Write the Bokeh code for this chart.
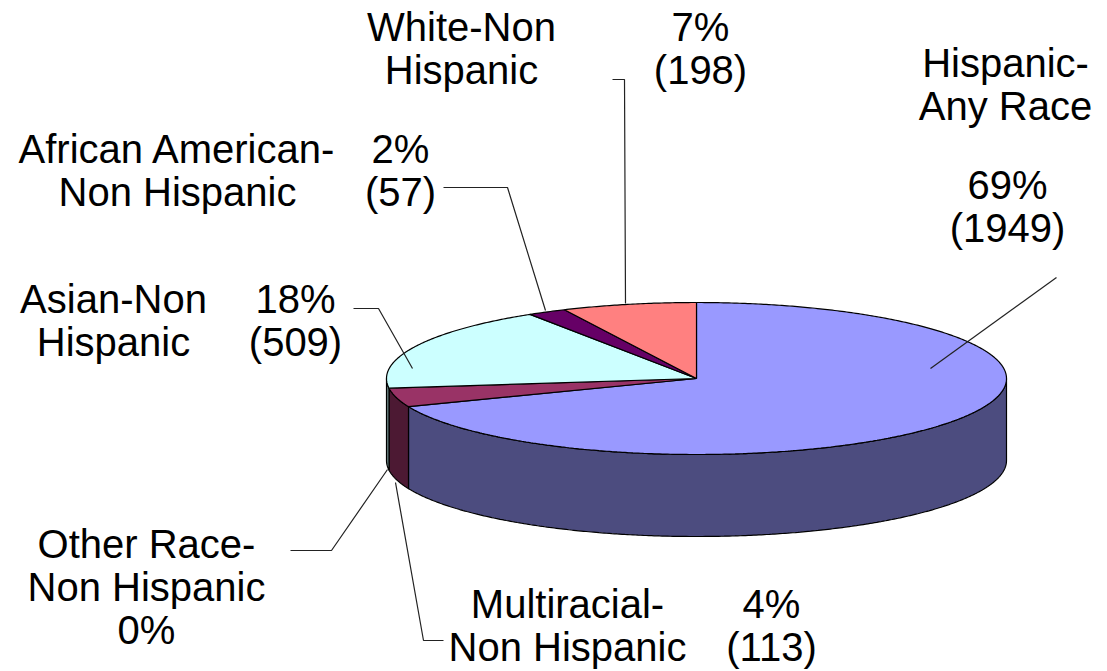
import numpy as np
from bokeh.plotting import figure
from bokeh.models import Range1d, ColumnDataSource
from bokeh.core.properties import value
from bokeh.embed import file_html
from bokeh.resources import INLINE

# ---------------- data ----------------
categories = ["Hispanic-Any Race", "Multiracial-Non Hispanic", "Other Race-Non Hispanic",
              "Asian-Non Hispanic", "African American-Non Hispanic", "White-Non Hispanic"]
name_lines = [["Hispanic-", "Any Race"], ["Multiracial-", "Non Hispanic"],
              ["Other Race-", "Non Hispanic"], ["Asian-Non", "Hispanic"],
              ["African American-", "Non Hispanic"], ["White-Non", "Hispanic"]]
counts = [1949, 113, 0, 509, 57, 198]
top_colors = ["#9999FF", "#993366", "#FFFFCC", "#CCFFFF", "#660066", "#FF8080"]

# ---------------- layout ----------------
W, H = 1107, 671
cx, cy, rx, ry, depth = 696, 378, 310, 76, 82
FONT = "Liberation Sans"
FSIZE = "40px"
PITCH = 43
# (center x, first-line y) for the name block and for the value block
name_pos = [(1005, 62), (567, 603), (146, 543), (113, 298), (177, 148), (461, 26)]
val_pos = [(1007, 184), (771, 603), (146, 629), (295, 298), (400, 148), (700, 26)]
leaders = [
    [(930, 368), (1056, 277)],
    [(395, 482), (423, 640), (443, 640)],
    [(387, 469), (331, 550), (290, 550)],
    [(412, 368), (378, 308), (353, 308)],
    [(545, 310), (507, 187), (443, 187)],
    [(625, 303), (624, 79), (612, 79)],
]


def darker(hexcol, f=0.5):
    h = hexcol.lstrip("#")
    r, g, b = (int(h[i:i + 2], 16) for i in (0, 2, 4))
    return "#%02x%02x%02x" % (int(r * f), int(g * f), int(b * f))


def arc(a, b, dy=0.0, n=None):
    if n is None:
        n = max(2, int(abs(b - a)) * 2 + 2)
    t = np.radians(np.linspace(a, b, n))
    return cx + rx * np.sin(t), cy - ry * np.cos(t) + dy


total = float(sum(counts))
angles = [360.0 * c / total for c in counts]
starts = np.concatenate([[0.0], np.cumsum(angles)[:-1]])
ends = starts + np.array(angles)

p = figure(width=W, height=H, x_range=Range1d(0, W), y_range=Range1d(H, 0),
           output_backend="svg", toolbar_location=None,
           x_axis_type=None, y_axis_type=None, min_border=0,
           outline_line_color=None, background_fill_color="white",
           border_fill_color="white")

# side walls (visible front half: clockwise angles 90..270 from 12 o'clock)
sx, sy, sc = [], [], []
for a, b, col in zip(starts, ends, top_colors):
    lo, hi = max(a, 90.0), min(b, 270.0)
    if hi > lo:
        tx, ty = arc(lo, hi)
        bx, by = arc(lo, hi, depth)
        sx.append(list(tx) + list(bx[::-1]))
        sy.append(list(ty) + list(by[::-1]))
        sc.append(darker(col))
p.patches(sx, sy, fill_color=sc, line_color="black", line_width=1.2)

# top faces
tx_l, ty_l, tc = [], [], []
for a, b, col in zip(starts, ends, top_colors):
    if b - a <= 0:
        continue
    ax_, ay_ = arc(a, b)
    tx_l.append([cx] + list(ax_))
    ty_l.append([cy] + list(ay_))
    tc.append(col)
p.patches(tx_l, ty_l, fill_color=tc, line_color="black", line_width=1.2)

# leader lines
p.multi_line([[q[0] for q in L] for L in leaders], [[q[1] for q in L] for L in leaders],
             line_color="#222222", line_width=1.2)

# labels
lx, ly, lt = [], [], []
for i, c in enumerate(counts):
    pct = int(round(100.0 * c / total))
    x0, y0 = name_pos[i]
    for k, line in enumerate(name_lines[i]):
        lx.append(x0); ly.append(y0 + k * PITCH); lt.append(line)
    vals = [f"{pct}%"] + ([f"({c})"] if c > 0 else [])
    x1, y1 = val_pos[i]
    for k, line in enumerate(vals):
        lx.append(x1); ly.append(y1 + k * PITCH); lt.append(line)

src = ColumnDataSource(dict(x=lx, y=ly, text=lt))
p.text("x", "y", text="text", source=src, text_align="center", text_baseline="alphabetic",
       text_font=value(FONT), text_font_size=FSIZE, text_color="black")

open("out.html", "w").write(file_html(p, INLINE))
